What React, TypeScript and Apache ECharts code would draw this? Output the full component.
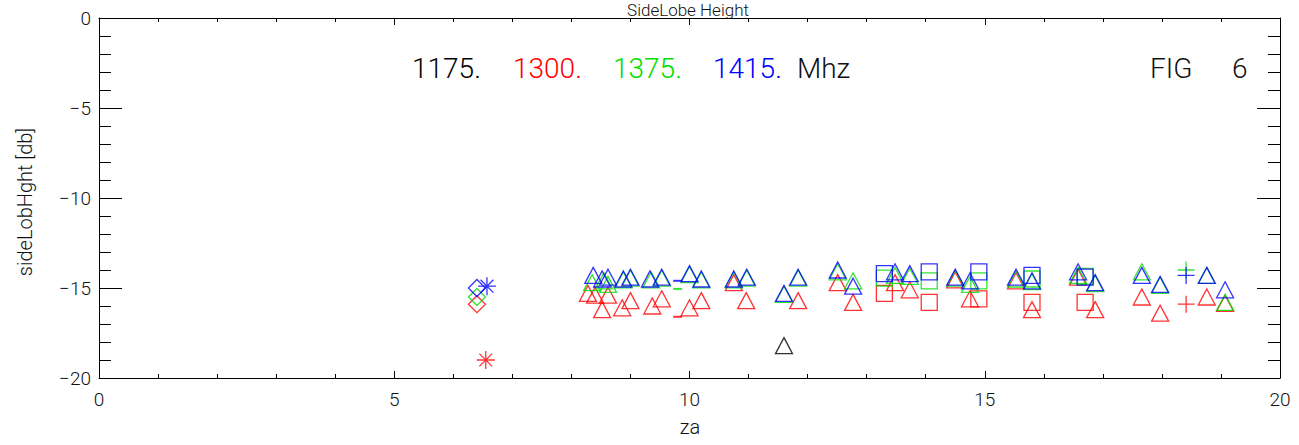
import React, { useEffect, useRef } from "react";
import * as echarts from "echarts";

// ---- data (za, side-lobe height in dB, symbol kind) ----
const blackX = [11.6];
const blackY = [-18.2];
const blackSym = ["tri"];

const redX = [6.40, 6.55, 8.28, 8.40, 8.62, 8.52, 8.86, 9.0, 9.37, 9.53, 9.8, 10.0, 10.2, 10.75, 10.96, 11.84, 12.51, 12.77, 13.3, 13.48, 13.73, 14.06, 14.5, 14.75, 14.9, 15.53, 15.8, 15.8, 16.58, 16.7, 16.87, 17.66, 17.97, 18.41, 18.76, 19.07];
const redY = [-15.9, -19.0, -15.3, -15.4, -15.4, -16.2, -16.1, -15.7, -16.0, -15.6, -16.6, -16.1, -15.7, -14.7, -15.7, -15.7, -14.7, -15.8, -15.3, -14.7, -15.1, -15.8, -14.55, -15.6, -15.6, -14.6, -15.8, -16.2, -14.4, -15.8, -16.2, -15.5, -16.4, -15.9, -15.5, -15.85];
const redSym = ["dia", "ast", "tri", "tri", "tri", "tri", "tri", "tri", "tri", "tri", "dash", "tri", "tri", "tri", "tri", "tri", "tri", "tri", "sq", "tri", "tri", "sq", "tri", "tri", "sq", "tri", "sq", "tri", "tri", "sq", "tri", "tri", "tri", "plus", "tri", "tri"];

const greenX = [6.40, 8.35, 8.55, 8.62, 8.88, 9.0, 9.35, 9.53, 9.8, 10.0, 10.2, 10.75, 10.97, 11.6, 11.84, 12.51, 12.77, 13.3, 13.48, 13.73, 14.06, 14.5, 14.75, 14.9, 15.53, 15.8, 15.8, 16.58, 16.7, 16.87, 17.66, 17.97, 18.41, 18.76, 19.07];
const greenY = [-15.5, -14.7, -14.6, -14.8, -14.55, -14.45, -14.55, -14.45, -15.05, -14.25, -14.55, -14.55, -14.45, -15.35, -14.45, -14.1, -14.6, -14.45, -14.3, -14.35, -14.6, -14.45, -14.8, -14.6, -14.5, -14.5, -14.65, -14.3, -14.35, -14.75, -14.1, -14.85, -14.0, -14.3, -15.8];
const greenSym = ["dia", "tri", "tri", "tri", "tri", "tri", "tri", "tri", "dash", "tri", "tri", "tri", "tri", "tri", "tri", "tri", "tri", "sq", "tri", "tri", "sq", "tri", "tri", "sq", "tri", "sq", "tri", "tri", "sq", "tri", "tri", "tri", "plus", "tri", "tri"];

const blueX = [6.40, 6.57, 8.37, 8.52, 8.62, 8.88, 9.0, 9.33, 9.53, 9.8, 10.0, 10.2, 10.75, 10.97, 11.6, 11.84, 12.51, 12.77, 13.3, 13.48, 13.73, 14.06, 14.5, 14.75, 14.9, 15.53, 15.8, 15.8, 16.58, 16.7, 16.87, 17.66, 17.97, 18.41, 18.76, 19.07];
const blueY = [-15.0, -14.9, -14.3, -14.5, -14.4, -14.5, -14.4, -14.5, -14.4, -14.6, -14.2, -14.5, -14.5, -14.4, -15.3, -14.4, -14.0, -14.9, -14.2, -14.1, -14.2, -14.1, -14.4, -14.6, -14.1, -14.4, -14.3, -14.6, -14.1, -14.4, -14.7, -14.3, -14.8, -14.3, -14.3, -15.1];
const blueSym = ["dia", "ast", "tri", "tri", "tri", "tri", "tri", "tri", "tri", "dash", "tri", "tri", "tri", "tri", "tri", "tri", "tri", "tri", "sq", "tri", "tri", "sq", "tri", "tri", "sq", "tri", "sq", "tri", "tri", "sq", "tri", "tri", "tri", "plus", "tri", "tri"];

const xTicks = [0, 5, 10, 15, 20];
const yTicks = [-20, -15, -10, -5, 0];
const freqLabels = ["1175.", "1300.", "1375.", "1415."];
const unitLabel = "Mhz";

const COLORS = ["#000000", "#ff0000", "#00dd00", "#0000ff"];
const FONT = "Roboto, 'DejaVu Sans', sans-serif";

const SYMBOLS: Record<string, { symbol: string; size: any; filled?: boolean }> = {
  tri: { symbol: "triangle", size: [17, 16] },
  sq: { symbol: "rect", size: [16, 16] },
  dia: { symbol: "diamond", size: [17, 17] },
  ast: { symbol: "path://M8,0L8,16M0,8L16,8M2.3,2.3L13.7,13.7M2.3,13.7L13.7,2.3", size: [18, 18] },
  plus: { symbol: "path://M8,0L8,16M0,8L16,8", size: [17, 17] },
  dash: { symbol: "rect", size: [9, 2], filled: true },
};

function buildData(xs: number[], ys: number[], syms: string[], color: string) {
  return xs.map((x, i) => {
    const s = SYMBOLS[syms[i]];
    return {
      value: [x, ys[i]],
      symbol: s.symbol,
      symbolSize: s.size,
      itemStyle: s.filled
        ? { color, borderWidth: 0 }
        : { color: "rgba(0,0,0,0)", borderColor: color, borderWidth: 1.3 },
    };
  });
}

const fmt = (v: number) => (v < 0 ? "\u2212" + Math.abs(v) : String(v));

export default function App() {
  const ref = useRef<HTMLDivElement>(null);
  useEffect(() => {
    document.body.style.margin = "0";
    const chart = echarts.init(ref.current!, null, { renderer: "svg" });
    const axisCommon = {
      axisLine: { show: true, onZero: false, lineStyle: { color: "#000", width: 1 } },
      splitLine: { show: false },
    };
    const xAxisBase = {
      type: "value",
      min: xTicks[0],
      max: xTicks[xTicks.length - 1],
      interval: 5,
      ...axisCommon,
      axisTick: { show: true, inside: true, length: 7, lineStyle: { color: "#000" } },
      minorTick: { show: true, splitNumber: 5, length: 4, lineStyle: { color: "#000" } },
    };
    const yAxisBase = {
      type: "value",
      min: yTicks[0],
      max: yTicks[yTicks.length - 1],
      interval: 5,
      ...axisCommon,
      axisTick: { show: true, inside: true, length: 23, lineStyle: { color: "#000" } },
      minorTick: { show: true, splitNumber: 5, length: 12, lineStyle: { color: "#000" } },
    };
    const labelStyle = { color: "#111", fontFamily: FONT, fontWeight: 300, fontSize: 19 };
    const hdrFont = `300 28px ${FONT}`;
    const hdrX = [412, 513, 613, 713];
    const series = [
      { xs: blackX, ys: blackY, syms: blackSym },
      { xs: redX, ys: redY, syms: redSym },
      { xs: greenX, ys: greenY, syms: greenSym },
      { xs: blueX, ys: blueY, syms: blueSym },
    ].map((s, i) => ({
      type: "scatter",
      xAxisIndex: 0,
      yAxisIndex: 0,
      data: buildData(s.xs, s.ys, s.syms, COLORS[i]),
      emphasis: { disabled: true },
      silent: true,
    }));
    chart.setOption({
      animation: false,
      grid: { left: 99, right: 19, top: 18, bottom: 67 },
      xAxis: [
        {
          ...xAxisBase,
          position: "bottom",
          axisLabel: { ...labelStyle, margin: 12, formatter: fmt },
        },
        { ...xAxisBase, position: "top", axisLabel: { show: false } },
      ],
      yAxis: [
        {
          ...yAxisBase,
          position: "left",
          axisLabel: { ...labelStyle, margin: 8, formatter: fmt },
        },
        { ...yAxisBase, position: "right", axisLabel: { show: false } },
      ],
      graphic: [
        {
          type: "text",
          x: 688,
          y: 1,
          style: { text: "SideLobe Height", font: `300 17px ${FONT}`, fill: "#111", align: "center", verticalAlign: "top" },
        },
        ...freqLabels.map((t, i) => ({
          type: "text",
          x: hdrX[i],
          y: 68,
          style: { text: t, font: hdrFont, fill: COLORS[i], align: "left", verticalAlign: "middle" },
        })),
        {
          type: "text",
          x: 797,
          y: 68,
          style: { text: unitLabel, font: hdrFont, fill: "#111", align: "left", verticalAlign: "middle" },
        },
        {
          type: "text",
          x: 1150,
          y: 68,
          style: { text: "FIG", font: hdrFont, fill: "#111", align: "left", verticalAlign: "middle" },
        },
        {
          type: "text",
          x: 1232,
          y: 68,
          style: { text: "6", font: hdrFont, fill: "#111", align: "left", verticalAlign: "middle" },
        },
        {
          type: "text",
          x: 25,
          y: 202,
          rotation: Math.PI / 2,
          style: { text: "sideLobHght [db]", font: `300 20px ${FONT}`, fill: "#111", align: "center", verticalAlign: "middle" },
        },
        {
          type: "text",
          x: 690,
          y: 427,
          style: { text: "za", font: `300 20px ${FONT}`, fill: "#111", align: "center", verticalAlign: "middle" },
        },
      ],
      series,
    } as any);
    return () => chart.dispose();
  }, []);
  return <div ref={ref} style={{ width: 1299, height: 445 }} />;
}
